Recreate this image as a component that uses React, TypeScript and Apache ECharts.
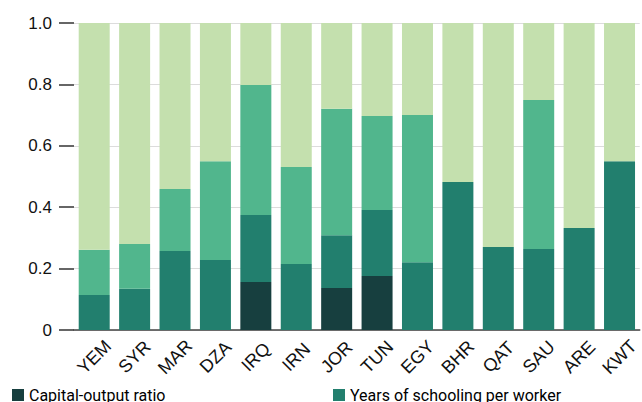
import React, { useEffect, useRef } from "react";
import * as echarts from "echarts";

const categories = ["YEM", "SYR", "MAR", "DZA", "IRQ", "IRN", "JOR", "TUN", "EGY", "BHR", "QAT", "SAU", "ARE", "KWT"];
const capitalOutput = [0, 0, 0, 0, 0.156, 0, 0.137, 0.176, 0, 0, 0, 0, 0, 0];
const schooling = [0.114, 0.134, 0.257, 0.228, 0.219, 0.215, 0.172, 0.215, 0.221, 0.482, 0.27, 0.264, 0.332, 0.55];
const productivity = [0.147, 0.146, 0.202, 0.322, 0.423, 0.316, 0.412, 0.306, 0.479, 0, 0, 0.485, 0, 0];
const residual = [0.739, 0.72, 0.541, 0.45, 0.202, 0.469, 0.279, 0.303, 0.3, 0.518, 0.73, 0.251, 0.668, 0.45];
const yTicks = { min: 0, max: 1, interval: 0.2 };

const seriesNames = ["Capital-output ratio", "Years of schooling per worker", "Total factor productivity", "Residual"];
const colors = ["#173f3f", "#227f6e", "#51b68d", "#c4e0ae"];

export default function App() {
  const ref = useRef<HTMLDivElement>(null);
  useEffect(() => {
    if (!ref.current) return;
    const chart = echarts.init(ref.current, null, { renderer: "svg" });
    const datas = [capitalOutput, schooling, productivity, residual];
    const legendText = { fontFamily: "Roboto", fontSize: 16, color: "#000", lineHeight: 16 };
    chart.setOption({
      animation: false,
      legend: [
        {
          data: [seriesNames[0]],
          left: 12,
          top: 387,
          padding: 0,
          itemWidth: 12,
          itemHeight: 12,
          icon: "rect",
          selectedMode: false,
          textStyle: legendText,
        },
        {
          data: [seriesNames[1]],
          left: 333,
          top: 387,
          padding: 0,
          itemWidth: 12,
          itemHeight: 12,
          icon: "rect",
          selectedMode: false,
          textStyle: legendText,
        },
      ],
      grid: { left: 74, top: 23, width: 570, height: 307, containLabel: false },
      xAxis: {
        type: "category",
        data: categories,
        axisLine: { show: true, lineStyle: { color: "#444", width: 1.5 } },
        axisTick: { show: false },
        axisLabel: {
          rotate: 45,
          align: "center",
          verticalAlign: "middle",
          margin: 27,
          fontFamily: "Liberation Sans",
          fontSize: 18,
          color: "#111",
          interval: 0,
        },
      },
      yAxis: {
        type: "value",
        min: yTicks.min,
        max: yTicks.max,
        interval: yTicks.interval,
        axisLine: { show: false },
        axisTick: { show: true, length: 15, lineStyle: { color: "#333", width: 1.5 } },
        splitLine: { show: true, lineStyle: { color: "#dcdcdc", width: 1 } },
        axisLabel: {
          margin: 22,
          fontFamily: "Liberation Sans",
          fontSize: 17,
          color: "#111",
          formatter: (v: number) => (v === 0 ? "0" : v.toFixed(1)),
        },
      },
      series: datas.map((d, i) => ({
        name: seriesNames[i],
        type: "bar",
        stack: "total",
        barWidth: 31,
        data: d,
        itemStyle: { color: colors[i] },
      })),
    });
    return () => chart.dispose();
  }, []);
  return <div ref={ref} style={{ width: 642, height: 402, position: "absolute", left: 0, top: 0 }} />;
}
